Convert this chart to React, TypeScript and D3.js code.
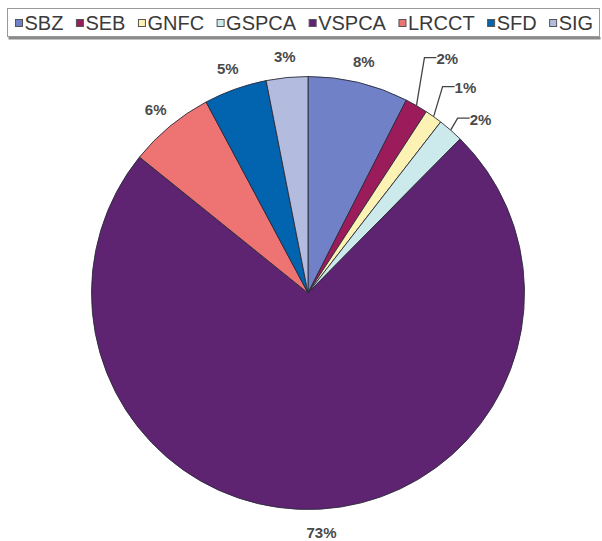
import React, { useEffect, useRef } from "react";
import * as d3 from "d3";

const categories = ["SBZ", "SEB", "GNFC", "GSPCA", "VSPCA", "LRCCT", "SFD", "SIG"];
const values = [7.5, 1.7, 1.3, 1.9, 73.4, 6.4, 4.7, 3.1];
const colors = ["#7181C7", "#9C1C5B", "#FBF2B4", "#CCE9EB", "#5E2371", "#EE7373", "#0263AF", "#B3BBDF"];
// leader-line layout for the thin slices (elbow offset from the slice edge)
const leaderElbows: Record<string, [number, number]> = {
  SEB: [8, -48],
  GNFC: [9, -30],
  GSPCA: [7, -12],
};

const W = 602;
const H = 541;
const CX = 308;
const CY = 293;
const R = 216.5;
const LABEL_R = 239;
const FONT = "'Liberation Sans', Arial, sans-serif";

export default function App() {
  const ref = useRef<SVGSVGElement>(null);

  useEffect(() => {
    const svg = d3.select(ref.current);
    svg.selectAll("*").remove();

    // legend box
    const lg = svg.append("g");
    lg.append("rect")
      .attr("x", 8.5).attr("y", 37).attr("width", 592).attr("height", 2.5)
      .attr("fill", "#8a8a8a");
    lg.append("rect")
      .attr("x", 7.5).attr("y", 8.5).attr("width", 592).attr("height", 28)
      .attr("fill", "#fff").attr("stroke", "#9a9a9a").attr("stroke-width", 1);

    let x = 15;
    categories.forEach((c, i) => {
      lg.append("rect")
        .attr("x", x + 0.5).attr("y", 19.5).attr("width", 7).attr("height", 7)
        .attr("fill", colors[i]).attr("stroke", "#555").attr("stroke-width", 1);
      const t = lg.append("text")
        .attr("x", x + 9.5).attr("y", 30)
        .attr("font-family", FONT).attr("font-size", 20)
        .attr("fill", "#3a3a3a").text(c);
      const w = (t.node() as SVGTextElement).getComputedTextLength();
      x = x + 9.5 + w + 12.5;
    });

    const pie = d3.pie<number>().sort(null).value((d) => d);
    const arcs = pie(values);
    const arc = d3.arc<d3.PieArcDatum<number>>().innerRadius(0).outerRadius(R);

    const g = svg.append("g").attr("transform", `translate(${CX},${CY})`);
    g.selectAll("path.slice")
      .data(arcs)
      .join("path")
      .attr("class", "slice")
      .attr("d", arc)
      .attr("fill", (_, i) => colors[i])
      .attr("stroke", "#2b2b3a")
      .attr("stroke-width", 0.9)
      .attr("stroke-linejoin", "round");

    const fmt = (v: number) => `${Math.round(v)}%`;

    arcs.forEach((a, i) => {
      const mid = (a.startAngle + a.endAngle) / 2;
      const cat = categories[i];
      const elbow = leaderElbows[cat];
      if (elbow) {
        const sx = Math.sin(mid) * R;
        const sy = -Math.cos(mid) * R;
        const ex = sx + elbow[0];
        const ey = sy + elbow[1];
        const hx = ex + 12;
        g.append("path")
          .attr("d", d3.line()([[sx, sy], [ex, ey], [hx, ey]]))
          .attr("fill", "none")
          .attr("stroke", "#444")
          .attr("stroke-width", 1.3);
        g.append("text")
          .attr("x", hx).attr("y", ey + 1)
          .attr("dominant-baseline", "central")
          .attr("font-family", FONT).attr("font-size", 15).attr("font-weight", "bold")
          .attr("fill", "#4a4a4a").text(fmt(values[i]));
      } else {
        g.append("text")
          .attr("x", Math.sin(mid) * LABEL_R)
          .attr("y", -Math.cos(mid) * LABEL_R + 1)
          .attr("text-anchor", "middle")
          .attr("dominant-baseline", "central")
          .attr("font-family", FONT).attr("font-size", 15).attr("font-weight", "bold")
          .attr("fill", "#4a4a4a").text(fmt(values[i]));
      }
    });
  }, []);

  return (
    <svg
      ref={ref}
      width={W}
      height={H}
      style={{ position: "fixed", left: 0, top: 0, background: "#fff" }}
    />
  );
}
